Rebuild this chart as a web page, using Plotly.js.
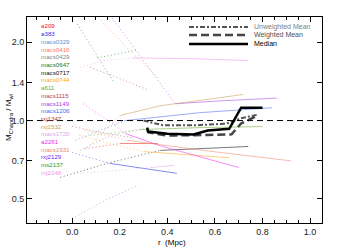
<!DOCTYPE html>
<html><head><meta charset="utf-8">
<script src="https://cdn.plot.ly/plotly-3.0.1.min.js"></script>
<style>html,body{margin:0;padding:0;background:#fff}#chart{width:349px;height:247px}</style>
</head><body><div id="chart"></div>
<script>
// ---- cluster names and colours (legend order) ----
const clusterNames = ['a209','a383','macs0329','macs0416','macs0429','macs0647','macs0717','macs0744','a611','macs1115','macs1149','macs1206','rxj1347','rxj1532','macs1720','a2261','macs1931','rxj2129','ms2137','rxj2248'];
const clusterColors = ['#ee2222','#2a2ae0','#5f8fd0','#ff7a5a','#8a8a8a','#1a7a1a','#111111','#ffaa22','#6fa82e','#c23c4a','#a348e6','#4a6cee','#a83c4c','#c99a5c','#d9a8e8','#f22cf0','#ee8a6a','#6a2cf0','#2a9a2a','#ee96ee'];

// ---- per-cluster profiles: inner (dotted) and outer (solid) parts, r in Mpc, ratio M_Chandra/M_wl ----
const a209_dot_r = [0.055, 0.20];            const a209_dot_m = [0.78, 0.816];
const a209_sol_r = [0.20, 0.36];             const a209_sol_m = [0.816, 0.816];
const a383_dot_r = [];                       const a383_dot_m = [];
const a383_sol_r = [0.16, 0.30, 0.44];       const a383_sol_m = [0.684, 0.655, 0.627];
const macs0329_dot_r = [0.0, 0.14, 0.277];   const macs0329_dot_m = [0.42, 0.494, 0.564];
const macs0329_sol_r = [];                   const macs0329_sol_m = [];
const macs0416_dot_r = [0.11, 0.244, 0.37];  const macs0416_dot_m = [2.48, 1.85, 1.436];
const macs0416_sol_r = [];                   const macs0416_sol_m = [];
const macs0429_dot_r = [0.034, 0.16, 0.30];  const macs0429_dot_m = [0.77, 0.876, 0.93];
const macs0429_sol_r = [];                   const macs0429_sol_m = [];
const macs0647_dot_r = [0.021, 0.105, 0.172];const macs0647_dot_m = [2.35, 1.77, 1.42];
const macs0647_sol_r = [];                   const macs0647_sol_m = [];
const macs0717_dot_r = [-0.05, 0.16, 0.37];  const macs0717_dot_m = [0.605, 0.69, 0.768];
const macs0717_sol_r = [0.37, 0.74];         const macs0717_sol_m = [0.768, 0.795];
const macs0744_dot_r = [0.03, 0.15, 0.30];   const macs0744_dot_m = [0.88, 0.82, 0.76];
const macs0744_sol_r = [0.30, 0.50, 0.66];   const macs0744_sol_m = [0.76, 0.74, 0.72];
const a611_dot_r = [0.076, 0.286];           const a611_dot_m = [0.876, 0.924];
const a611_sol_r = [0.286, 0.55, 0.80];      const a611_sol_m = [0.924, 0.94, 0.948];
const macs1115_dot_r = [0.076, 0.18, 0.32];  const macs1115_dot_m = [1.60, 1.475, 1.31];
const macs1115_sol_r = [];                   const macs1115_sol_m = [];
const macs1149_dot_r = [0.168, 0.286, 0.433];const macs1149_dot_m = [2.48, 1.77, 1.16];
const macs1149_sol_r = [0.433, 0.62, 0.86];  const macs1149_sol_m = [1.16, 1.19, 1.22];
const macs1206_dot_r = [0.013, 0.12, 0.223]; const macs1206_dot_m = [0.84, 0.92, 1.0];
const macs1206_sol_r = [0.223, 0.54, 0.84];  const macs1206_sol_m = [1.0, 1.073, 1.12];
const rxj1347_dot_r = [0.0, 0.12, 0.25];     const rxj1347_dot_m = [0.95, 0.90, 0.86];
const rxj1347_sol_r = [];                    const rxj1347_sol_m = [];
const rxj1532_dot_r = [0.063, 0.20];         const rxj1532_dot_m = [0.788, 1.045];
const rxj1532_sol_r = [0.20, 0.37, 0.72];    const rxj1532_sol_m = [1.045, 1.14, 1.26];
const macs1720_dot_r = [0.034, 0.20, 0.33];  const macs1720_dot_m = [0.627, 0.645, 0.66];
const macs1720_sol_r = [0.33, 0.43];         const macs1720_sol_m = [0.66, 0.673];
const a2261_dot_r = [0.046, 0.139, 0.223];   const a2261_dot_m = [1.16, 1.018, 0.892];
const a2261_sol_r = [0.223, 0.37, 0.70];     const a2261_sol_m = [0.892, 0.80, 0.66];
const macs1931_dot_r = [0.05, 0.23];         const macs1931_dot_m = [0.92, 0.84];
const macs1931_sol_r = [0.23, 0.54, 0.92];   const macs1931_sol_m = [0.84, 0.77, 0.70];
const rxj2129_dot_r = [0.0, 0.16];           const rxj2129_dot_m = [0.754, 0.684];
const rxj2129_sol_r = [];                    const rxj2129_sol_m = [];
const ms2137_dot_r = [0.105, 0.19, 0.277];   const ms2137_dot_m = [1.74, 1.80, 1.87];
const ms2137_sol_r = [];                     const ms2137_sol_m = [];
const rxj2248_dot_r = [0.034, 0.13, 0.256];  const rxj2248_dot_m = [1.60, 1.70, 1.74];
const rxj2248_sol_r = [0.256, 0.50, 0.74];   const rxj2248_sol_m = [1.74, 1.73, 1.70];

// ---- summary profiles ----
const umean_r  = [0.30, 0.38, 0.525, 0.65, 0.705, 0.78];
const umean_m  = [1.0, 0.96, 0.96, 0.974, 1.018, 1.054];
const wmean_r  = [0.315, 0.32, 0.40, 0.51, 0.57, 0.67, 0.71, 0.78];
const wmean_m  = [0.92, 0.90, 0.876, 0.876, 0.88, 0.885, 0.975, 1.045];
const median_r = [0.315, 0.32, 0.40, 0.51, 0.57, 0.66, 0.71, 0.80];
const median_m = [0.94, 0.907, 0.89, 0.884, 0.915, 0.93, 1.12, 1.12];

const summaryNames = ['Unweighted Mean', 'Weighted Mean', 'Median'];

// ---- y tick labels ----
const yTickVals = [0.5, 0.7, 1.0, 1.4, 2.0];
const yTickText = ['0.5', '0.7', '1.0', '1.4', '2.0'];

const profileSets = [
  [a209_dot_r, a209_dot_m, a209_sol_r, a209_sol_m],
  [a383_dot_r, a383_dot_m, a383_sol_r, a383_sol_m],
  [macs0329_dot_r, macs0329_dot_m, macs0329_sol_r, macs0329_sol_m],
  [macs0416_dot_r, macs0416_dot_m, macs0416_sol_r, macs0416_sol_m],
  [macs0429_dot_r, macs0429_dot_m, macs0429_sol_r, macs0429_sol_m],
  [macs0647_dot_r, macs0647_dot_m, macs0647_sol_r, macs0647_sol_m],
  [macs0717_dot_r, macs0717_dot_m, macs0717_sol_r, macs0717_sol_m],
  [macs0744_dot_r, macs0744_dot_m, macs0744_sol_r, macs0744_sol_m],
  [a611_dot_r, a611_dot_m, a611_sol_r, a611_sol_m],
  [macs1115_dot_r, macs1115_dot_m, macs1115_sol_r, macs1115_sol_m],
  [macs1149_dot_r, macs1149_dot_m, macs1149_sol_r, macs1149_sol_m],
  [macs1206_dot_r, macs1206_dot_m, macs1206_sol_r, macs1206_sol_m],
  [rxj1347_dot_r, rxj1347_dot_m, rxj1347_sol_r, rxj1347_sol_m],
  [rxj1532_dot_r, rxj1532_dot_m, rxj1532_sol_r, rxj1532_sol_m],
  [macs1720_dot_r, macs1720_dot_m, macs1720_sol_r, macs1720_sol_m],
  [a2261_dot_r, a2261_dot_m, a2261_sol_r, a2261_sol_m],
  [macs1931_dot_r, macs1931_dot_m, macs1931_sol_r, macs1931_sol_m],
  [rxj2129_dot_r, rxj2129_dot_m, rxj2129_sol_r, rxj2129_sol_m],
  [ms2137_dot_r, ms2137_dot_m, ms2137_sol_r, ms2137_sol_m],
  [rxj2248_dot_r, rxj2248_dot_m, rxj2248_sol_r, rxj2248_sol_m]
];

const traces = [];
profileSets.forEach((s, i) => {
  if (s[0].length) traces.push({x: s[0], y: s[1], mode: 'lines', name: clusterNames[i], showlegend: false, hoverinfo: 'skip',
    opacity: 0.6, line: {color: clusterColors[i], width: 1, dash: '1px,2.5px'}});
  if (s[2].length) traces.push({x: s[2], y: s[3], mode: 'lines', name: clusterNames[i], showlegend: false, hoverinfo: 'skip',
    opacity: 0.7, line: {color: clusterColors[i], width: 0.8}});
});
const sumStyles = [
  {color: '#555555', width: 2, dash: '5px,2px,2px,2px'},
  {color: '#444444', width: 2.5, dash: '8px,4px'},
  {color: '#000000', width: 2.5, dash: 'solid'}
];
[[umean_r, umean_m], [wmean_r, wmean_m], [median_r, median_m]].forEach((d, i) => {
  traces.push({x: d[0], y: d[1], mode: 'lines', name: summaryNames[i], showlegend: false, line: sumStyles[i]});
});

// geometry of plot area in px
const W = 349, H = 247, L = 27, R = 27, T = 17, B = 24;
const pw = W - L - R, ph = H - T - B;
const px2x = p => (p - L) / pw;
const py2y = p => 1 - (p - T) / ph;

const annotations = [];
clusterNames.forEach((n, i) => {
  annotations.push({text: n, xref: 'paper', yref: 'paper', x: px2x(39), y: py2y(26 + i * 7.7), xanchor: 'left', yanchor: 'middle',
    showarrow: false, font: {family: 'Liberation Sans, Arial, sans-serif', size: 6.2, color: clusterColors[i]}});
});
const legendTextColors = ['#808080', '#505050', '#000000'];
const shapes = [{type: 'line', xref: 'paper', yref: 'y', x0: 0, x1: 1, y0: 1, y1: 1, line: {color: '#000', width: 1, dash: '6px,4px'}}];
[27, 35, 44].forEach((py, i) => {
  shapes.push({type: 'line', xref: 'paper', yref: 'paper', x0: px2x(189), x1: px2x(248), y0: py2y(py), y1: py2y(py), line: sumStyles[i]});
  annotations.push({text: summaryNames[i], xref: 'paper', yref: 'paper', x: px2x(252), y: py2y(py), xanchor: 'left', yanchor: 'middle',
    showarrow: false, font: {family: 'Liberation Sans, Arial, sans-serif', size: 7, color: legendTextColors[i]}});
});
annotations.push({text: 'M<sub>Chandra</sub> / M<sub>wl</sub>', xref: 'paper', yref: 'paper', x: px2x(9), y: py2y(118), textangle: -90,
  xanchor: 'center', yanchor: 'middle', showarrow: false, font: {family: 'Liberation Sans, Arial, sans-serif', size: 8, color: '#000'}});
annotations.push({text: 'r  (Mpc)', xref: 'paper', yref: 'paper', x: px2x(172), y: py2y(242), xanchor: 'center', yanchor: 'middle',
  showarrow: false, font: {family: 'Liberation Sans, Arial, sans-serif', size: 8, color: '#000'}});

const axisFont = {family: 'Liberation Sans, Arial, sans-serif', size: 9, color: '#222'};
const layout = {
  width: W, height: H, margin: {l: L, r: R, t: T, b: B, pad: 0},
  paper_bgcolor: '#fff', plot_bgcolor: '#fff', showlegend: false,
  xaxis: {range: [-0.19, 1.05], dtick: 0.2, tick0: 0, tickformat: '.1f', ticks: 'inside', ticklen: 5, tickcolor: '#000',
    showline: true, linecolor: '#000', linewidth: 1, mirror: 'ticks', showgrid: false, zeroline: false, tickfont: axisFont,
    minor: {dtick: 0.05, tick0: 0, ticks: 'inside', ticklen: 3, tickcolor: '#000', showgrid: false}},
  yaxis: {type: 'log', range: [Math.log10(0.404), Math.log10(2.5)], tickvals: yTickVals, ticktext: yTickText,
    ticks: 'inside', ticklen: 5, tickcolor: '#000', showline: true, linecolor: '#000', linewidth: 1, mirror: 'ticks',
    showgrid: false, zeroline: false, tickfont: axisFont},
  shapes: shapes, annotations: annotations
};
Plotly.newPlot('chart', traces, layout, {staticPlot: true, displayModeBar: false});
</script></body></html>
